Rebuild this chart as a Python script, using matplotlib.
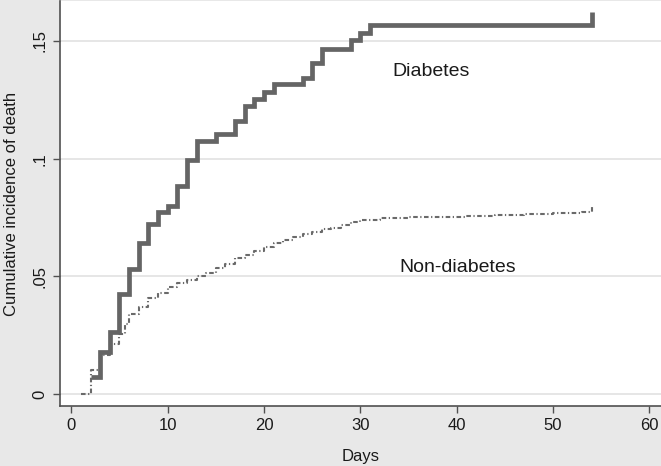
import matplotlib
matplotlib.use("Agg")
import matplotlib.pyplot as plt

plt.rcParams["font.family"] = ["Liberation Sans", "DejaVu Sans"]

# Diabetes: cumulative incidence (step function)
diab_days = [2, 3, 4, 5, 6, 7, 8, 9, 10, 11, 12, 13, 15, 17, 18, 19, 20, 21,
             24, 25, 26, 29, 30, 31, 54]
diab_cif = [0.0075, 0.0181, 0.0263, 0.0424, 0.0531, 0.0643, 0.0722, 0.0775,
            0.0800, 0.0886, 0.0994, 0.1076, 0.1105, 0.1161, 0.1224, 0.1253,
            0.1284, 0.1316, 0.1344, 0.1407, 0.1466, 0.1502, 0.1534, 0.1567,
            0.1624]

# Non-diabetes
nondiab_days = [1, 2, 3, 4, 5, 5.6, 6, 7, 8, 9, 10, 11, 12, 13, 14, 15, 16, 17,
                18, 19, 20, 21, 22, 23, 24, 25, 26, 27, 28, 29, 30, 32, 35, 38,
                41, 44, 47, 50, 53, 54]
nondiab_cif = [0, 0.0103, 0.0165, 0.0215, 0.0256, 0.0300, 0.0340, 0.0372,
               0.0409, 0.0430, 0.0455, 0.0472, 0.0485, 0.0500, 0.0514, 0.0536,
               0.0552, 0.0577, 0.0591, 0.0610, 0.0627, 0.0641, 0.0655, 0.0669,
               0.0680, 0.0690, 0.0700, 0.0707, 0.0719, 0.0733, 0.0740, 0.0747,
               0.0751, 0.0754, 0.0758, 0.0761, 0.0764, 0.0768, 0.0772, 0.0803]

x_ticks = [0, 10, 20, 30, 40, 50, 60]
y_ticks = [0, 0.05, 0.10, 0.15]
y_labels = ["0", ".05", ".1", ".15"]

bg = "#e8e8e8"
line_col = "#656565"
axis_col = "#505050"

fig = plt.figure(figsize=(6.61, 4.66), dpi=100, facecolor=bg)
ax = fig.add_axes([60 / 661, 1 - 406 / 466, 601 / 661, 405 / 466])
ax.set_facecolor("white")

ax.plot(nondiab_days, nondiab_cif, drawstyle="steps-post", color="#6a6a6a",
        lw=1.5, linestyle=(0, (2.2, 1.2, 0.6, 1.2)), zorder=3)
ax.plot(diab_days, diab_cif, drawstyle="steps-post", color=line_col,
        lw=3.4, solid_joinstyle="miter", solid_capstyle="butt", zorder=4)

ax.text(33.3, 0.1351, "Diabetes", fontsize=14, ha="left", va="baseline",
        color="#1a1a1a")
ax.text(34.05, 0.0520, "Non-diabetes", fontsize=14, ha="left", va="baseline",
        color="#1a1a1a")

ax.set_xlim(-1.17, 61.2)
ax.set_ylim(-0.00497, 0.1669)
ax.set_xticks(x_ticks)
ax.set_yticks(y_ticks)
ax.set_yticklabels(y_labels, rotation=90, va="center")

ax.grid(axis="y", color="#e2e2e2", lw=1.2)
ax.set_axisbelow(True)

for side in ["top", "right"]:
    ax.spines[side].set_visible(False)
for side in ["left", "bottom"]:
    ax.spines[side].set_color(axis_col)
    ax.spines[side].set_linewidth(1.2)

ax.tick_params(axis="both", colors=axis_col, length=5, width=1.0,
               labelsize=12, labelcolor="#1a1a1a", pad=4)

ax.set_xlabel("Days", fontsize=12, labelpad=11, color="#1a1a1a")
ax.set_ylabel("Cumulative incidence of death", fontsize=12, labelpad=10,
              color="#1a1a1a")

plt.savefig("out.png", dpi=100, facecolor=bg)
